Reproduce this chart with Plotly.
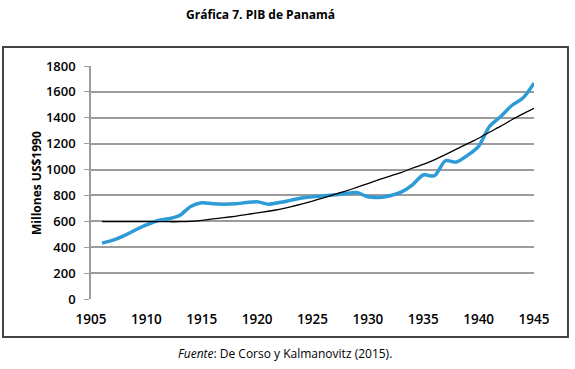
import plotly.graph_objects as go

years = list(range(1906, 1946))
pib = [432, 455, 490, 533, 572, 605, 620, 645, 715, 744,
       735, 732, 735, 745, 752, 732, 745, 762, 780, 790,
       797, 805, 815, 822, 790, 785, 798, 825, 880, 958,
       952, 1068, 1058, 1110, 1180, 1335, 1410, 1495, 1552, 1668]
tendencia = [597, 597, 597, 597, 597, 597, 597, 597, 600, 608,
             619, 628, 639, 652, 665, 678, 693, 712, 733, 756,
             782, 808, 834, 862, 892, 922, 950, 977, 1010, 1040,
             1075, 1115, 1158, 1200, 1242, 1290, 1335, 1385, 1430, 1473]
y_ticks = [0, 200, 400, 600, 800, 1000, 1200, 1400, 1600, 1800]
x_ticks = [1905, 1910, 1915, 1920, 1925, 1930, 1935, 1940, 1945]

title_text = "<b>Gráfica 7. PIB de Panamá</b>"
y_title = "<b>Millones US$1990</b>"
source_text = "<i>Fuente</i>: De Corso y Kalmanovitz (2015)."

FONT = "Open Sans, Lato, sans-serif"

fig = go.Figure()
fig.add_trace(go.Scatter(x=years, y=pib, mode="lines",
                         line=dict(color="rgb(44,155,214)", width=3.5, shape="spline", smoothing=0.8),
                         showlegend=False))
fig.add_trace(go.Scatter(x=years, y=tendencia, mode="lines",
                         line=dict(color="black", width=1.3, shape="spline", smoothing=0.6),
                         showlegend=False))

fig.update_layout(
    width=575, height=369,
    margin=dict(l=91, r=41, t=66, b=70),
    paper_bgcolor="white", plot_bgcolor="white",
    font=dict(family=FONT, color="black"),
    xaxis=dict(range=[1905, 1945], tickvals=x_ticks, ticktext=[str(v) for v in x_ticks],
               showgrid=False, zeroline=False, showline=False, ticks="",
               tickfont=dict(size=13.5, family=FONT, weight=600), ticklabelstandoff=10),
    yaxis=dict(range=[0, 1800], tickvals=y_ticks, ticktext=[str(v) for v in y_ticks],
               showgrid=True, gridcolor="#9c9c9c", gridwidth=1.5, zeroline=False,
               showline=True, linecolor="#9c9c9c", linewidth=1.5,
               ticks="outside", ticklen=5, tickcolor="#9c9c9c", tickwidth=1,
               tickfont=dict(size=13, family=FONT, weight=600), ticklabelstandoff=6),
    shapes=[dict(type="rect", xref="paper", yref="paper",
                 x0=-0.1986, x1=1.0767, y0=-0.1631, y1=1.0815,
                 line=dict(color="#444444", width=2), fillcolor="rgba(0,0,0,0)", layer="below")],
    annotations=[
        dict(text=title_text, xref="paper", yref="paper", x=0.3815, y=1.219,
             showarrow=False, font=dict(size=12, family=FONT), xanchor="center", yanchor="middle"),
        dict(text=y_title, xref="paper", yref="paper", x=-0.1219, y=0.498, textangle=-90,
             showarrow=False, font=dict(size=12, family=FONT), xanchor="center", yanchor="middle"),
        dict(text=source_text, xref="paper", yref="paper", x=0.438, y=-0.2318,
             showarrow=False, font=dict(size=12, family=FONT), xanchor="center", yanchor="middle"),
    ],
)

fig.write_html("out.html", config={"displayModeBar": False},
               post_script="document.body.style.margin='0px';")
